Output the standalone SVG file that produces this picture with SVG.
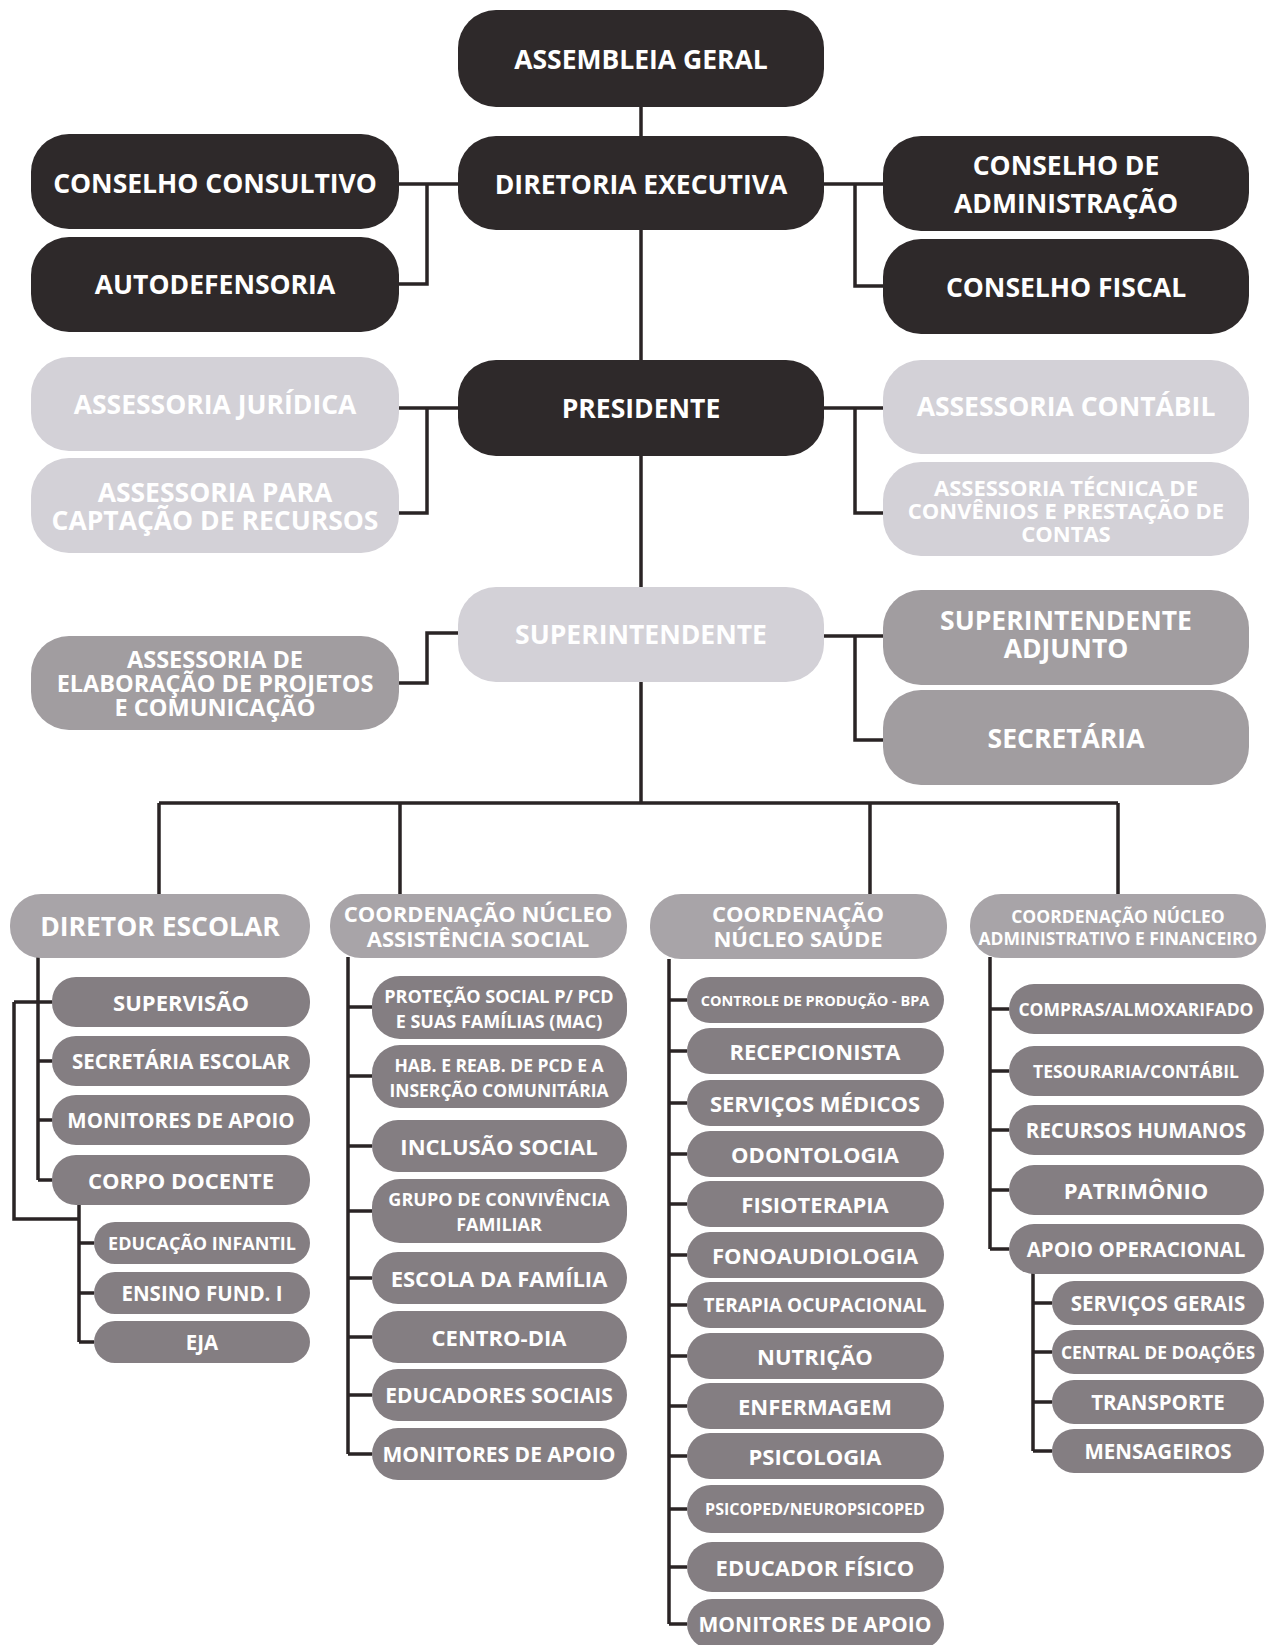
<svg xmlns="http://www.w3.org/2000/svg" width="1280" height="1645" viewBox="0 0 1280 1645">
<style>
text{font-family:"Open Sans","Liberation Sans",sans-serif;font-weight:700;fill:#ffffff;text-anchor:middle;dominant-baseline:central}
.dark{fill:#2e292a}
.light{fill:#d3d1d7}
.mid{fill:#a19da0}
.hdr{fill:#a8a4a8}
.sub{fill:#847e82}
.conn path{fill:none;stroke:#2a2425;stroke-width:3.5}
.t26{font-size:26.5px}
.t24{font-size:23.5px}
.t22{font-size:22px}
.t21{font-size:21px}
.t20{font-size:20.5px}
.t19{font-size:19px}
.t18{font-size:18px}
.t17{font-size:17.5px}
.t16{font-size:16px}
.t14{font-size:14.5px}
</style>
<rect width="1280" height="1645" fill="#ffffff"/>
<g class="conn" id="connectors">
<path d="M641,107 V803"/>
<path d="M399,184 H458 M427,184 V284 H399"/>
<path d="M824,184 H883 M855,184 V286 H883"/>
<path d="M399,408 H458 M427,408 V513 H399"/>
<path d="M824,408 H883 M855,408 V513 H883"/>
<path d="M458,633 H427 V683 H399"/>
<path d="M824,636 H883 M855,636 V740 H883"/>
<path d="M159,803 H1118 M159,803 V894 M400,803 V894 M870,803 V894 M1118,803 V894"/>
<path d="M38,957 V1180 M14,1002 H52 M38,1061 H52 M38,1120 H52 M38,1180 H52 M14,1002 V1219 H79 M79,1204 V1342 M79,1243 H94 M79,1293 H94 M79,1342 H94"/>
<path d="M348,957 V1454 M348,1007 H372 M348,1076 H372 M348,1146 H372 M348,1211 H372 M348,1278 H372 M348,1337 H372 M348,1395 H372 M348,1454 H372"/>
<path d="M669,959 V1624 M669,1000 H687 M669,1051 H687 M669,1103 H687 M669,1154 H687 M669,1204 H687 M669,1255 H687 M669,1305 H687 M669,1356 H687 M669,1406 H687 M669,1456 H687 M669,1509 H687 M669,1567 H687 M669,1624 H687"/>
<path d="M990,957 V1249 M990,1009 H1009 M990,1071 H1009 M990,1130 H1009 M990,1190 H1009 M990,1249 H1009 M1033,1273 V1451 M1033,1303 H1052 M1033,1352 H1052 M1033,1402 H1052 M1033,1451 H1052"/>
</g>

<g id="assembleia"><rect class="dark" x="458" y="10" width="366" height="97" rx="38"/><text class="t26" x="641" y="59">ASSEMBLEIA GERAL</text></g>
<g id="diretoria"><rect class="dark" x="458" y="136" width="366" height="94" rx="38"/><text class="t26" x="641" y="184">DIRETORIA EXECUTIVA</text></g>
<g id="cons-consultivo"><rect class="dark" x="31" y="134" width="368" height="95" rx="38"/><text class="t26" x="215" y="183">CONSELHO CONSULTIVO</text></g>
<g id="autodefensoria"><rect class="dark" x="31" y="237" width="368" height="95" rx="38"/><text class="t26" x="215" y="284">AUTODEFENSORIA</text></g>
<g id="cons-admin"><rect class="dark" x="883" y="136" width="366" height="95" rx="38"/><text class="t26" x="1066" y="165">CONSELHO DE</text><text class="t26" x="1066" y="203">ADMINISTRAÇÃO</text></g>
<g id="cons-fiscal"><rect class="dark" x="883" y="239" width="366" height="95" rx="38"/><text class="t26" x="1066" y="287">CONSELHO FISCAL</text></g>

<g id="ass-juridica"><rect class="light" x="31" y="357" width="368" height="94" rx="38"/><text class="t26" x="215" y="404">ASSESSORIA JURÍDICA</text></g>
<g id="presidente"><rect class="dark" x="458" y="360" width="366" height="96" rx="38"/><text class="t26" x="641" y="408">PRESIDENTE</text></g>
<g id="ass-contabil"><rect class="light" x="883" y="360" width="366" height="94" rx="38"/><text class="t26" x="1066" y="406">ASSESSORIA CONTÁBIL</text></g>
<g id="ass-captacao"><rect class="light" x="31" y="458" width="368" height="95" rx="38"/><text class="t26" x="215" y="492">ASSESSORIA PARA</text><text class="t26" x="215" y="520">CAPTAÇÃO DE RECURSOS</text></g>
<g id="ass-tecnica"><rect class="light" x="883" y="462" width="366" height="94" rx="38"/><text class="t22" x="1066" y="487">ASSESSORIA TÉCNICA DE</text><text class="t22" x="1066" y="510">CONVÊNIOS E PRESTAÇÃO DE</text><text class="t22" x="1066" y="533">CONTAS</text></g>

<g id="superintendente"><rect class="light" x="458" y="587" width="366" height="95" rx="38"/><text class="t26" x="641" y="634">SUPERINTENDENTE</text></g>
<g id="ass-elaboracao"><rect class="mid" x="31" y="636" width="368" height="94" rx="38"/><text class="t24" x="215" y="659">ASSESSORIA DE</text><text class="t24" x="215" y="683">ELABORAÇÃO DE PROJETOS</text><text class="t24" x="215" y="707">E COMUNICAÇÃO</text></g>
<g id="sup-adjunto"><rect class="mid" x="883" y="590" width="366" height="95" rx="38"/><text class="t26" x="1066" y="620">SUPERINTENDENTE</text><text class="t26" x="1066" y="648">ADJUNTO</text></g>
<g id="secretaria"><rect class="mid" x="883" y="690" width="366" height="95" rx="38"/><text class="t26" x="1066" y="738">SECRETÁRIA</text></g>

<g id="diretor-escolar"><rect class="hdr" x="10" y="894" width="300" height="64" rx="31"/><text class="t26" x="160" y="926">DIRETOR ESCOLAR</text></g>
<g id="supervisao"><rect class="sub" x="52" y="977" width="258" height="50" rx="24"/><text class="t22" x="181" y="1002">SUPERVISÃO</text></g>
<g id="secretaria-escolar"><rect class="sub" x="52" y="1036" width="258" height="50" rx="24"/><text class="t20" x="181" y="1061">SECRETÁRIA ESCOLAR</text></g>
<g id="monitores-1"><rect class="sub" x="52" y="1095" width="258" height="50" rx="24"/><text class="t20" x="181" y="1120">MONITORES DE APOIO</text></g>
<g id="corpo-docente"><rect class="sub" x="52" y="1155" width="258" height="50" rx="24"/><text class="t22" x="181" y="1180">CORPO DOCENTE</text></g>
<g id="educacao-infantil"><rect class="sub" x="94" y="1222" width="216" height="42" rx="21"/><text class="t18" x="202" y="1243">EDUCAÇÃO INFANTIL</text></g>
<g id="ensino-fund"><rect class="sub" x="94" y="1272" width="216" height="42" rx="21"/><text class="t20" x="202" y="1293">ENSINO FUND. I</text></g>
<g id="eja"><rect class="sub" x="94" y="1321" width="216" height="42" rx="21"/><text class="t20" x="202" y="1342">EJA</text></g>

<g id="coord-social"><rect class="hdr" x="330" y="894" width="297" height="64" rx="31"/><text class="t22" x="478" y="913">COORDENAÇÃO NÚCLEO</text><text class="t22" x="478" y="938">ASSISTÊNCIA SOCIAL</text></g>
<g id="protecao"><rect class="sub" x="372" y="976" width="255" height="63" rx="28"/><text class="t18" x="499" y="996">PROTEÇÃO SOCIAL P/ PCD</text><text class="t18" x="499" y="1021">E SUAS FAMÍLIAS (MAC)</text></g>
<g id="hab-reab"><rect class="sub" x="372" y="1045" width="255" height="63" rx="28"/><text class="t17" x="499" y="1065">HAB. E REAB. DE PCD E A</text><text class="t17" x="499" y="1090">INSERÇÃO COMUNITÁRIA</text></g>
<g id="inclusao"><rect class="sub" x="372" y="1120" width="255" height="52" rx="26"/><text class="t22" x="499" y="1146">INCLUSÃO SOCIAL</text></g>
<g id="grupo"><rect class="sub" x="372" y="1179" width="255" height="64" rx="28"/><text class="t18" x="499" y="1199">GRUPO DE CONVIVÊNCIA</text><text class="t18" x="499" y="1224">FAMILIAR</text></g>
<g id="escola-familia"><rect class="sub" x="372" y="1252" width="255" height="52" rx="26"/><text class="t22" x="499" y="1278">ESCOLA DA FAMÍLIA</text></g>
<g id="centro-dia"><rect class="sub" x="372" y="1311" width="255" height="52" rx="26"/><text class="t22" x="499" y="1337">CENTRO-DIA</text></g>
<g id="educadores"><rect class="sub" x="372" y="1369" width="255" height="52" rx="26"/><text class="t21" x="499" y="1395">EDUCADORES SOCIAIS</text></g>
<g id="monitores-2"><rect class="sub" x="372" y="1428" width="255" height="52" rx="26"/><text class="t21" x="499" y="1454">MONITORES DE APOIO</text></g>

<g id="coord-saude"><rect class="hdr" x="650" y="894" width="297" height="65" rx="31"/><text class="t22" x="798" y="913">COORDENAÇÃO</text><text class="t22" x="798" y="938">NÚCLEO SAÚDE</text></g>
<g id="controle"><rect class="sub" x="687" y="977" width="257" height="46" rx="23"/><text class="t14" x="815" y="1000">CONTROLE DE PRODUÇÃO - BPA</text></g>
<g id="recepcionista"><rect class="sub" x="687" y="1028" width="257" height="46" rx="23"/><text class="t22" x="815" y="1051">RECEPCIONISTA</text></g>
<g id="servicos-medicos"><rect class="sub" x="687" y="1080" width="257" height="46" rx="23"/><text class="t22" x="815" y="1103">SERVIÇOS MÉDICOS</text></g>
<g id="odontologia"><rect class="sub" x="687" y="1131" width="257" height="46" rx="23"/><text class="t22" x="815" y="1154">ODONTOLOGIA</text></g>
<g id="fisioterapia"><rect class="sub" x="687" y="1181" width="257" height="46" rx="23"/><text class="t22" x="815" y="1204">FISIOTERAPIA</text></g>
<g id="fonoaudiologia"><rect class="sub" x="687" y="1232" width="257" height="46" rx="23"/><text class="t22" x="815" y="1255">FONOAUDIOLOGIA</text></g>
<g id="terapia"><rect class="sub" x="687" y="1282" width="257" height="46" rx="23"/><text class="t19" x="815" y="1305">TERAPIA OCUPACIONAL</text></g>
<g id="nutricao"><rect class="sub" x="687" y="1333" width="257" height="46" rx="23"/><text class="t22" x="815" y="1356">NUTRIÇÃO</text></g>
<g id="enfermagem"><rect class="sub" x="687" y="1383" width="257" height="46" rx="23"/><text class="t22" x="815" y="1406">ENFERMAGEM</text></g>
<g id="psicologia"><rect class="sub" x="687" y="1433" width="257" height="46" rx="23"/><text class="t22" x="815" y="1456">PSICOLOGIA</text></g>
<g id="psicoped"><rect class="sub" x="687" y="1485" width="257" height="48" rx="24"/><text class="t16" x="815" y="1509">PSICOPED/NEUROPSICOPED</text></g>
<g id="educador-fisico"><rect class="sub" x="687" y="1542" width="257" height="50" rx="25"/><text class="t22" x="815" y="1567">EDUCADOR FÍSICO</text></g>
<g id="monitores-3"><rect class="sub" x="687" y="1599" width="257" height="50" rx="25"/><text class="t21" x="815" y="1624">MONITORES DE APOIO</text></g>

<g id="coord-adm"><rect class="hdr" x="970" y="894" width="296" height="64" rx="31"/><text class="t17" x="1118" y="916">COORDENAÇÃO NÚCLEO</text><text class="t17" x="1118" y="938">ADMINISTRATIVO E FINANCEIRO</text></g>
<g id="compras"><rect class="sub" x="1009" y="984" width="255" height="50" rx="25"/><text class="t17" x="1136" y="1009">COMPRAS/ALMOXARIFADO</text></g>
<g id="tesouraria"><rect class="sub" x="1009" y="1046" width="255" height="50" rx="25"/><text class="t17" x="1136" y="1071">TESOURARIA/CONTÁBIL</text></g>
<g id="rh"><rect class="sub" x="1009" y="1105" width="255" height="50" rx="25"/><text class="t20" x="1136" y="1130">RECURSOS HUMANOS</text></g>
<g id="patrimonio"><rect class="sub" x="1009" y="1165" width="255" height="50" rx="25"/><text class="t22" x="1136" y="1190">PATRIMÔNIO</text></g>
<g id="apoio-operacional"><rect class="sub" x="1009" y="1224" width="255" height="50" rx="25"/><text class="t20" x="1136" y="1249">APOIO OPERACIONAL</text></g>
<g id="servicos-gerais"><rect class="sub" x="1052" y="1281" width="212" height="44" rx="22"/><text class="t20" x="1158" y="1303">SERVIÇOS GERAIS</text></g>
<g id="central-doacoes"><rect class="sub" x="1052" y="1330" width="212" height="44" rx="22"/><text class="t17" x="1158" y="1352">CENTRAL DE DOAÇÕES</text></g>
<g id="transporte"><rect class="sub" x="1052" y="1380" width="212" height="44" rx="22"/><text class="t20" x="1158" y="1402">TRANSPORTE</text></g>
<g id="mensageiros"><rect class="sub" x="1052" y="1429" width="212" height="44" rx="22"/><text class="t20" x="1158" y="1451">MENSAGEIROS</text></g>
</svg>
